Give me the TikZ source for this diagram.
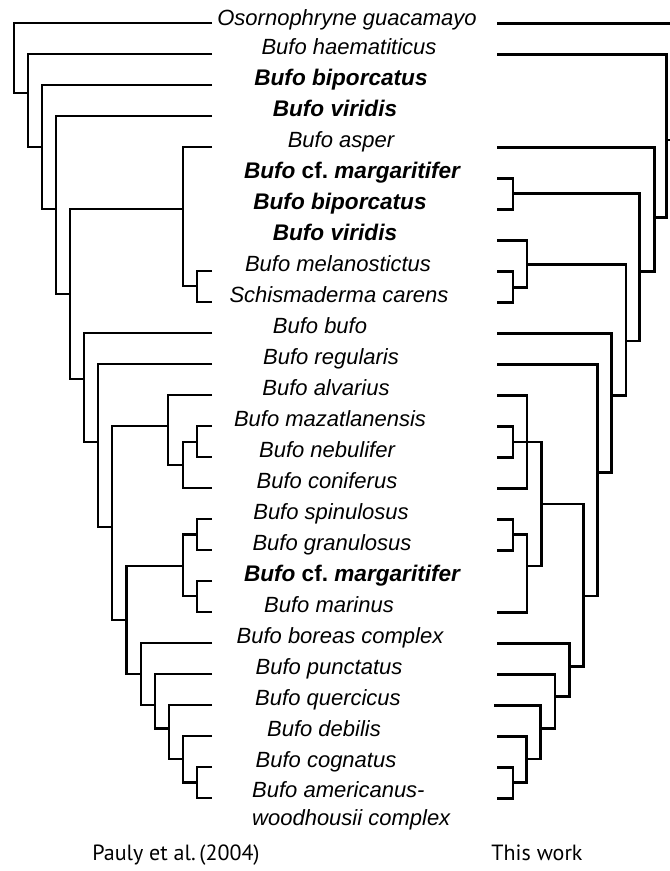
\documentclass[tikz,border=0pt]{standalone}
\usepackage{fontspec}
\setmainfont{Liberation Sans}
\newfontfamily\capfont{PT Sans}
\begin{document}
\begin{tikzpicture}[x=1pt,y=-1pt,
  br/.style={line width=2.8pt},
  taxon/.style={font=\fontsize{22}{28}\selectfont\itshape, anchor=base, inner sep=0pt},
  btaxon/.style={taxon, font=\fontsize{22.6}{28}\selectfont\bfseries\itshape},
  captxt/.style={font=\capfont\fontsize{22}{26}\selectfont, anchor=base, inner sep=0pt}]
\useasboundingbox (0,0) rectangle (670,871);
% leaf tips
\foreach \i in {0,...,25} \coordinate (L\i) at (212,{23+31*\i});
\foreach \i in {0,1,4,5,6,7,8,9,10,11,12,13,14,15,16,17,19,20,21,23,24,25} \coordinate (R\i) at (497,{23.5+31*\i});
\coordinate (R22) at (494,705.5);
% labels
\node[taxon]  (t0)  at (347,25) {Osornophryne guacamayo};
\node[taxon]  (t1)  at (349,54) {Bufo haematiticus};
\node[btaxon] (t2)  at (341,85) {Bufo biporcatus};
\node[btaxon] (t3)  at (335,116) {Bufo viridis};
\node[taxon]  (t4)  at (341,147) {Bufo asper};
\node[btaxon] (t5)  at (352,178) {Bufo \upshape cf.\ \itshape margaritifer};
\node[btaxon] (t6)  at (340,209) {Bufo biporcatus};
\node[btaxon] (t7)  at (335,240) {Bufo viridis};
\node[taxon]  (t8)  at (338,271) {Bufo melanostictus};
\node[taxon]  (t9)  at (339,302) {Schismaderma carens};
\node[taxon]  (t10) at (320,333) {Bufo bufo};
\node[taxon]  (t11) at (331,364) {Bufo regularis};
\node[taxon]  (t12) at (326,395) {Bufo alvarius};
\node[taxon]  (t13) at (330,426) {Bufo mazatlanensis};
\node[taxon]  (t14) at (327,457) {Bufo nebulifer};
\node[taxon]  (t15) at (327,488) {Bufo coniferus};
\node[taxon]  (t16) at (331,519) {Bufo spinulosus};
\node[taxon]  (t17) at (332,550) {Bufo granulosus};
\node[btaxon] (t18) at (352,581) {Bufo \upshape cf.\ \itshape margaritifer};
\node[taxon]  (t19) at (329,612) {Bufo marinus};
\node[taxon]  (t20) at (340,643) {Bufo boreas complex};
\node[taxon]  (t21) at (329,674) {Bufo punctatus};
\node[taxon]  (t22) at (328,705) {Bufo quercicus};
\node[taxon]  (t23) at (324,736) {Bufo debilis};
\node[taxon]  (t24) at (326,767) {Bufo cognatus};
\node[taxon, anchor=base west] (t25) at (252,797.5) {\begin{tabular}[t]{@{}l@{}}Bufo americanus-\\woodhousii complex\end{tabular}};
\node[captxt] (capL) at (176,860) {Pauly et al.\,(2004)};
\node[captxt] (capR) at (537,860) {This work};
% left tree internal nodes
\coordinate (la) at (14,93);
\coordinate (lb) at (28,93);
\coordinate (lc) at (42,147);
\coordinate (ld) at (56,209);
\coordinate (le) at (70,294);
\coordinate (lf) at (183,209);
\coordinate (lf2) at (197,286);
\coordinate (lg) at (84,379);
\coordinate (lh) at (98,442);
\coordinate (li) at (112,527);
\coordinate (lj) at (168,426);
\coordinate (lk) at (183,465);
\coordinate (ll) at (197,442);
\coordinate (lm) at (126.5,620);
\coordinate (ln) at (183,566);
\coordinate (lo) at (197,534.5);
\coordinate (lp) at (197,596);
\coordinate (lq) at (141,674);
\coordinate (lr) at (155,705);
\coordinate (ls) at (169,728.5);
\coordinate (lt) at (183,759);
\coordinate (lu) at (197,782.5);
\begin{scope}[br]
\draw (L0) -| (la) |- (lb);
\draw (L1) -| (lb) |- (lc);
\draw (L2) -| (lc) |- (ld);
\draw (L3) -| (ld) |- (le);
\draw (lf) -| (le) |- (lg);
\draw (L4) -| (lf) |- (lf2);
\draw (L8) -| (lf2) |- (L9);
\draw (L10) -| (lg) |- (lh);
\draw (L11) -| (lh) |- (li);
\draw (lj) -| (li) |- (lm);
\draw (L12) -| (lj) |- (lk);
\draw (ll) -| (lk) |- (L15);
\draw (L13) -| (ll) |- (L14);
\draw (ln) -| (lm) |- (lq);
\draw (lo) -| (ln) |- (lp);
\draw (L16) -| (lo) |- (L17);
\draw (L18) -| (lp) |- (L19);
\draw (L20) -| (lq) |- (lr);
\draw (L21) -| (lr) |- (ls);
\draw (L22) -| (ls) |- (lt);
\draw (L23) -| (lt) |- (lu);
\draw (L24) -| (lu) |- (L25);
\end{scope}
% right tree internal nodes
\coordinate (ra) at (674,140);
\coordinate (rb) at (666.7,140);
\coordinate (rc) at (654.3,217.3);
\coordinate (rd) at (639.3,271.7);
\coordinate (re) at (513,193.5);
\coordinate (rf) at (626,341);
\coordinate (rg) at (527,264.3);
\coordinate (ri) at (513,287.3);
\coordinate (rh) at (611.7,395.7);
\coordinate (rj) at (597.5,472.7);
\coordinate (rk) at (583.3,596);
\coordinate (rl) at (541.5,504);
\coordinate (rm) at (527,442);
\coordinate (rn) at (513,442);
\coordinate (rp) at (527,566);
\coordinate (ro) at (513,534.5);
\coordinate (rr) at (569.3,666.7);
\coordinate (rs) at (555,696.7);
\coordinate (rt) at (540.7,728.3);
\coordinate (ru) at (526.7,759);
\coordinate (rv) at (513,782.5);
\begin{scope}[br]
\draw (R0) -| (ra) |- (rb);
\draw (R1) -| (rb) |- (rc);
\draw (R4) -| (rc) |- (rd);
\draw (re) -| (rd) |- (rf);
\draw (R5) -| (re) |- (R6);
\draw (rg) -| (rf) |- (rh);
\draw (R7) -| (rg) |- (ri);
\draw (R8) -| (ri) |- (R9);
\draw (R10) -| (rh) |- (rj);
\draw (R11) -| (rj) |- (rk);
\draw (rl) -| (rk) |- (rr);
\draw (rm) -| (rl) |- (rp);
\draw (R12) -| (rm) |- (R15);
\draw (rn) -- (rm);
\draw (R13) -| (rn) |- (R14);
\draw (ro) -| (rp) |- (R19);
\draw (R16) -| (ro) |- (R17);
\draw (R20) -| (rr) |- (rs);
\draw (R21) -| (rs) |- (rt);
\draw (R22) -| (rt) |- (ru);
\draw (R23) -| (ru) |- (rv);
\draw (R24) -| (rv) |- (R25);
\end{scope}
\end{tikzpicture}
\end{document}
